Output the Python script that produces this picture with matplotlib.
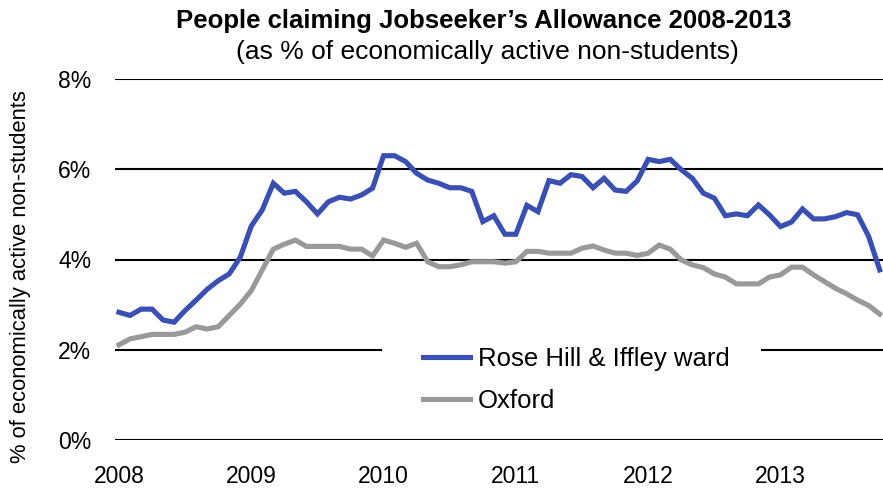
import matplotlib
matplotlib.use('Agg')
import matplotlib.pyplot as plt
from matplotlib.patches import Rectangle
import numpy as np

plt.rcParams['font.family'] = ['Liberation Sans', 'DejaVu Sans']

# monthly values, Jan 2008 .. Oct 2013 (% of economically active non-students)
rose_hill = [
    2.83, 2.76, 2.90, 2.90, 2.66, 2.61, 2.87, 3.10, 3.34, 3.53, 3.68, 4.05,
    4.74, 5.10, 5.69, 5.47, 5.51, 5.28, 5.01, 5.28, 5.38, 5.34, 5.43, 5.58,
    6.30, 6.30, 6.17, 5.91, 5.76, 5.69, 5.59, 5.59, 5.51, 4.84, 4.97, 4.56,
    4.56, 5.20, 5.06, 5.75, 5.69, 5.88, 5.84, 5.59, 5.80, 5.54, 5.51, 5.74,
    6.22, 6.17, 6.22, 5.99, 5.80, 5.47, 5.36, 4.97, 5.01, 4.97, 5.21, 4.99,
    4.73, 4.83, 5.12, 4.90, 4.90, 4.95, 5.04, 4.99, 4.51, 3.77,
]
oxford = [
    2.11, 2.24, 2.29, 2.34, 2.34, 2.34, 2.39, 2.51, 2.46, 2.51, 2.76, 3.01,
    3.31, 3.77, 4.23, 4.34, 4.43, 4.29, 4.29, 4.29, 4.29, 4.23, 4.23, 4.08,
    4.43, 4.36, 4.27, 4.36, 3.95, 3.84, 3.84, 3.88, 3.95, 3.95, 3.95, 3.92,
    3.95, 4.18, 4.18, 4.14, 4.14, 4.14, 4.25, 4.30, 4.21, 4.14, 4.14, 4.09,
    4.14, 4.32, 4.23, 3.99, 3.88, 3.82, 3.68, 3.61, 3.46, 3.46, 3.46, 3.61,
    3.66, 3.83, 3.83, 3.66, 3.51, 3.36, 3.24, 3.10, 2.98, 2.79,
]
years = ['2008', '2009', '2010', '2011', '2012', '2013']
y_ticks = [0, 2, 4, 6, 8]

BLUE = '#3a4fb2'
GREY = '#999999'
W, H = 883, 488

fig = plt.figure(figsize=(W / 100, H / 100), dpi=100)
ax = fig.add_axes([115 / W, 1 - 440 / H, 1 - 115 / W, (440 - 79) / H])

months = np.arange(len(rose_hill))
ax.plot(months, rose_hill, color=BLUE, lw=3.7, solid_joinstyle='miter',
        label='Rose Hill & Iffley ward', zorder=3)
ax.plot(months, oxford, color=GREY, lw=3.7, solid_joinstyle='miter',
        label='Oxford', zorder=2)

ax.set_xlim(-0.36, 69.3)
ax.set_ylim(0, 8)
ax.set_yticks(y_ticks)
ax.set_yticklabels([f'{v}%' for v in y_ticks])
ax.set_xticks(np.arange(len(years)) * 12)
ax.set_xticklabels(years)
ax.tick_params(length=0, labelsize=16.5)
ax.tick_params(axis='x', pad=18)
ax.tick_params(axis='y', pad=17)
ax.grid(axis='y', color='black', lw=1.5)
ax.set_axisbelow(True)
for s in ax.spines.values():
    s.set_visible(False)

fig.text(21 / W, 1 - 277 / H, '% of economically active non-students',
         rotation=90, ha='center', va='center', fontsize=15.8)

# white legend area (hides the 2% gridline behind the legend)
ax.add_patch(Rectangle(((382 - 115) / 768, (440 - 425) / 361),
                       (761 - 382) / 768, (425 - 330) / 361,
                       transform=ax.transAxes, facecolor='white',
                       edgecolor='none', zorder=1.5))

leg = ax.legend(loc='center left', bbox_to_anchor=(423 / W, 1 - 380 / H),
                bbox_transform=fig.transFigure, fontsize=18.5, frameon=False,
                borderpad=0, handlelength=1.83, handletextpad=0.31,
                labelspacing=0.72, borderaxespad=0)

fig.text(484 / W, 1 - 21 / H, 'People claiming Jobseeker\u2019s Allowance 2008-2013',
         ha='center', va='center', fontsize=18.5, fontweight='bold')
fig.text(487 / W, 1 - 52 / H, '(as % of economically active non-students)',
         ha='center', va='center', fontsize=19)

fig.savefig('out.png', dpi=100, facecolor='white')
